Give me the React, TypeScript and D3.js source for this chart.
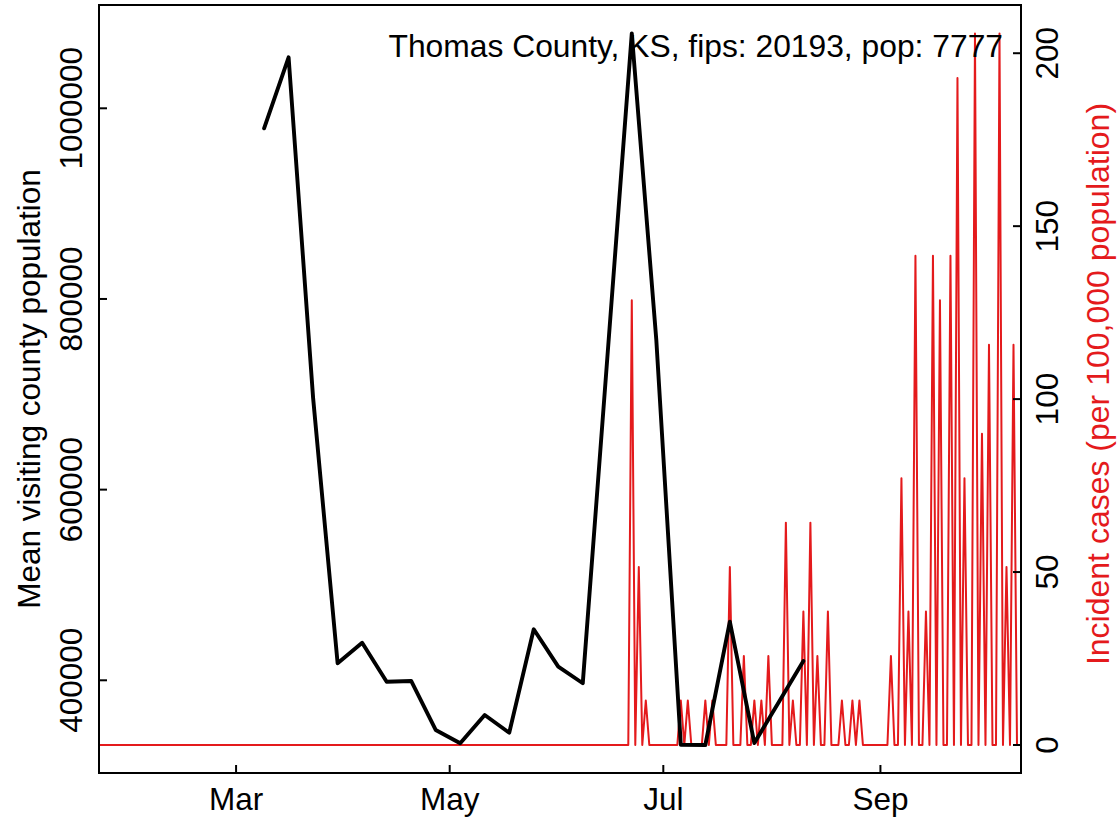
import React from "react";
import * as d3 from "d3";

const title = "Thomas County, KS, fips: 20193, pop: 7777";
const leftAxisTitle = "Mean visiting county population";
const rightAxisTitle = "Incident cases (per 100,000 population)";

// weekly mean visiting county population (black)
const visitDates = [
  "2020-03-09", "2020-03-16", "2020-03-23", "2020-03-30", "2020-04-06", "2020-04-13",
  "2020-04-20", "2020-04-27", "2020-05-04", "2020-05-11", "2020-05-18", "2020-05-25",
  "2020-06-01", "2020-06-08", "2020-06-15", "2020-06-22", "2020-06-29", "2020-07-06",
  "2020-07-13", "2020-07-20", "2020-07-27", "2020-08-03", "2020-08-10",
];
const visitValues = [
  979000, 1053500, 696100, 417800, 439400, 398500,
  399300, 347900, 333900, 363600, 345000, 453500,
  414300, 396900, 737700, 1078560, 757000, 332300,
  332130, 461500, 334200, 377200, 420200,
];

// daily incident cases per 100,000 (red): zero from the first date until the daily block
const incidentFirstDate = "2020-01-22";
const incidentFirstValue = 0;
const incidentDailyStart = "2020-06-20";
const incidentDaily = [
  0, 0, 128.58, 0, 51.43, 0, 12.86,
  0, 0, 0, 0, 0, 0, 0,
  0, 0, 12.86, 0, 12.86, 0, 0,
  0, 0, 12.86, 0, 12.86, 0, 0,
  0, 0, 51.43, 0, 0, 0, 25.72,
  0, 0, 12.86, 0, 12.86, 0, 25.72,
  0, 0, 0, 0, 64.29, 0, 12.86,
  0, 0, 38.57, 0, 64.29, 0, 25.72,
  0, 0, 38.57, 0, 0, 0, 12.86,
  0, 0, 12.86, 0, 12.86, 0, 0,
  0, 0, 0, 0, 0, 0, 25.72,
  0, 0, 77.15, 0, 38.57, 0, 141.44,
  0, 0, 38.57, 0, 141.44, 0, 128.58,
  0, 0, 141.44, 0, 192.87, 0, 77.15,
  0, 0, 205.73, 0, 90.01, 0, 115.73,
  0, 0, 205.73, 0, 51.43, 0, 115.73,
  0,
];

const monthTicks = ["2020-03-01", "2020-05-01", "2020-07-01", "2020-09-01"];
const monthLabels = ["Mar", "May", "Jul", "Sep"];
const leftTicks = [400000, 600000, 800000, 1000000];
const rightTicks = [0, 50, 100, 150, 200];

const W = 1119;
const H = 822;
const box = { left: 99, right: 1021, top: 5, bottom: 773 };
const dataTop = 33.4;
const dataBottom = 745;
const RED = "#e41a1c";
const FONT = "'Liberation Sans', Arial, Helvetica, sans-serif";
const FS = 31.5;
const TICK = 8;

export default function App() {
  const parse = d3.timeParse("%Y-%m-%d");
  const incidentPoints: { date: Date; value: number }[] = [
    { date: parse(incidentFirstDate)!, value: incidentFirstValue },
    ...incidentDaily.map((v, i) => ({
      date: d3.timeDay.offset(parse(incidentDailyStart)!, i),
      value: v,
    })),
  ];
  const visitPoints = visitDates.map((d, i) => ({ date: parse(d)!, value: visitValues[i] }));

  const x = d3
    .scaleTime()
    .domain(d3.extent(incidentPoints, (d) => d.date) as [Date, Date])
    .range([99.5, 1017]);
  const yL = d3
    .scaleLinear()
    .domain([d3.min(visitValues)!, d3.max(visitValues)!])
    .range([dataBottom, dataTop]);
  const yR = d3
    .scaleLinear()
    .domain([0, d3.max(incidentDaily)!])
    .range([dataBottom, dataTop]);

  const redLine = d3
    .line<{ date: Date; value: number }>()
    .x((d) => x(d.date))
    .y((d) => yR(d.value))(incidentPoints)!;
  const blackLine = d3
    .line<{ date: Date; value: number }>()
    .x((d) => x(d.date))
    .y((d) => yL(d.value))(visitPoints)!;

  const cy = (box.top + box.bottom) / 2;

  return (
    <svg
      width={W}
      height={H}
      style={{ position: "absolute", left: 0, top: 0, background: "#fff" }}
      fontFamily={FONT}
    >
      <rect x={0} y={0} width={W} height={H} fill="#fff" />
      <path d={redLine} fill="none" stroke={RED} strokeWidth={2} strokeLinejoin="round" strokeLinecap="round" />
      <path d={blackLine} fill="none" stroke="#000" strokeWidth={3.9} strokeLinejoin="round" strokeLinecap="round" />

      <rect
        x={box.left}
        y={box.top}
        width={box.right - box.left}
        height={box.bottom - box.top}
        fill="none"
        stroke="#000"
        strokeWidth={2}
      />

      {/* bottom axis */}
      {monthTicks.map((t, i) => {
        const px = x(parse(t)!);
        return (
          <g key={t}>
            <line x1={px} x2={px} y1={box.bottom} y2={box.bottom - TICK} stroke="#000" strokeWidth={2} />
            <text x={px} y={810} fontSize={FS} textAnchor="middle" fill="#000">
              {monthLabels[i]}
            </text>
          </g>
        );
      })}

      {/* left axis */}
      {leftTicks.map((t) => {
        const py = yL(t);
        return (
          <g key={t}>
            <line x1={box.left} x2={box.left + TICK} y1={py} y2={py} stroke="#000" strokeWidth={2} />
            <text
              transform={`translate(81.5,${py}) rotate(-90)`}
              fontSize={FS}
              textAnchor="middle"
              fill="#000"
            >
              {t}
            </text>
          </g>
        );
      })}

      {/* right axis */}
      {rightTicks.map((t) => {
        const py = yR(t);
        return (
          <g key={t}>
            <line x1={box.right} x2={box.right - TICK} y1={py} y2={py} stroke="#000" strokeWidth={2} />
            <text
              transform={`translate(1058,${py}) rotate(-90)`}
              fontSize={FS}
              textAnchor="middle"
              fill="#000"
            >
              {t}
            </text>
          </g>
        );
      })}

      <text transform={`translate(40,${cy}) rotate(-90)`} fontSize={FS} textAnchor="middle" fill="#000">
        {leftAxisTitle}
      </text>
      <text transform={`translate(1108.5,${cy - 5}) rotate(-90)`} fontSize={32} textAnchor="middle" fill={RED}>
        {rightAxisTitle}
      </text>

      <text x={1003} y={56.5} fontSize={31.8} textAnchor="end" fill="#000">
        {title}
      </text>
    </svg>
  );
}
